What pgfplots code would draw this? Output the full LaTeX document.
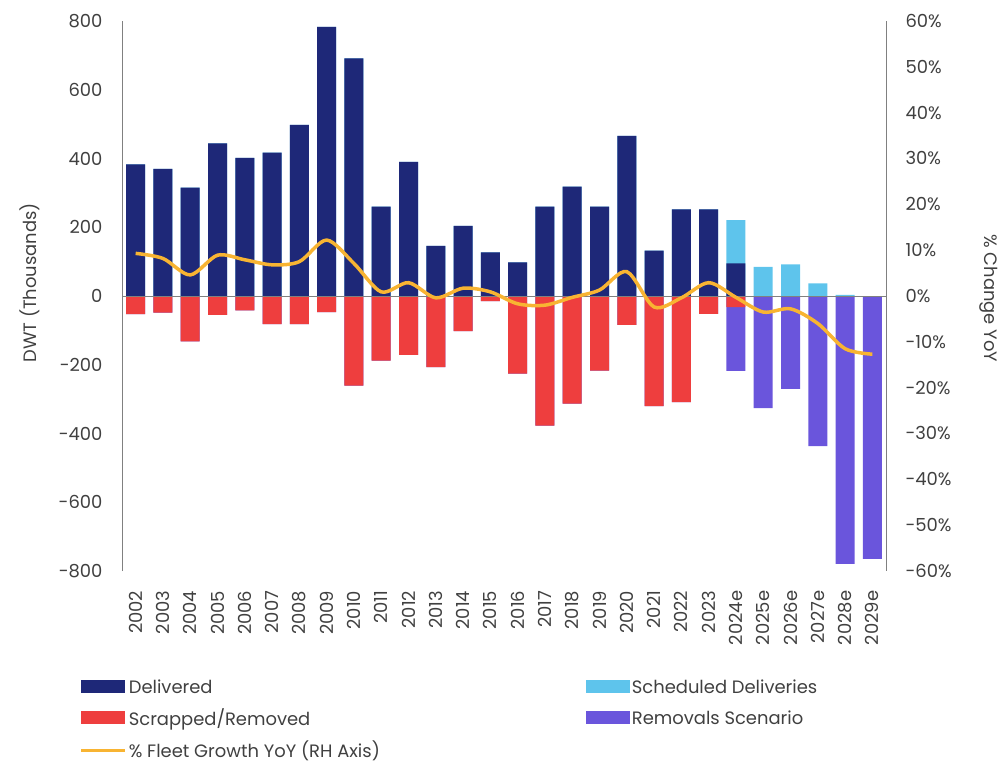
\documentclass[border=0pt]{standalone}
\usepackage{pgfplots}
\usepackage{pgfplotstable}
\pgfplotsset{compat=1.18}
\usepackage{fontspec}
\setmainfont{Poppins}
\definecolor{cDel}{HTML}{1E2878}
\definecolor{cSch}{HTML}{5EC4EC}
\definecolor{cScr}{HTML}{EE3E3E}
\definecolor{cRem}{HTML}{6A55DC}
\definecolor{cLine}{HTML}{F8B432}
\definecolor{cTxt}{HTML}{404040}
\definecolor{cAx}{HTML}{808080}
\pgfplotstableread{
x del sch scr rem g
0 383 0 -53 0 9.3
1 370 0 -48 0 8.2
2 315 0 -132 0 4.6
3 444 0 -55 0 8.9
4 402 0 -42 0 7.9
5 417 0 -82 0 6.8
6 498 0 -82 0 7.5
7 783 0 -47 0 12.2
8 691 0 -261 0 7.1
9 260 0 -188 0 0.9
10 390 0 -171 0 2.9
11 146 0 -207 0 -0.4
12 204 0 -102 0 1.7
13 127 0 -15 0 0.9
14 98 0 -226 0 -1.7
15 260 0 -377 0 -2.0
16 318 0 -313 0 -0.3
17 260 0 -217 0 1.3
18 466 0 -84 0 5.3
19 132 0 -320 0 -2.4
20 252 0 -309 0 -0.4
21 252 0 -52 0 2.9
22 95 126 -32 -186 -0.3
23 0 85 0 -326 -3.5
24 0 92 0 -270 -2.8
25 0 37 0 -437 -6.0
26 0 3 0 -779 -11.5
27 0 0 0 -765 -12.7
}\data
\begin{document}
\begin{tikzpicture}
\useasboundingbox (0,0) rectangle (1003bp,772bp);
\pgfplotsset{
  every axis/.append style={
    at={(122bp,201bp)}, anchor=south west,
    width=764bp, height=550bp, scale only axis,
    xmin=-0.5, xmax=27.5,
    tick style={draw=none},
    tick label style={font=\fontsize{18}{21}\selectfont, text=cTxt},
    label style={font=\fontsize{18}{21}\selectfont, text=cTxt},
    axis line style={cAx, line width=1pt},
  }
}
\begin{axis}[
  ymin=-800, ymax=800,
  axis y line*=left,
  axis x line*=bottom,
  x axis line style={draw=none},
  ytick={-800,-600,-400,-200,0,200,400,600,800},
  yticklabels={-800,-600,-400,-200,0,200,400,600,800},
  yticklabel shift=16bp,
  xtick={0,...,27},
  xticklabels={2002,2003,2004,2005,2006,2007,2008,2009,2010,2011,2012,2013,2014,2015,2016,2017,2018,2019,2020,2021,2022,2023,2024e,2025e,2026e,2027e,2028e,2029e},
  xticklabel style={rotate=90, anchor=east},
  xticklabel shift=12bp,
  ylabel={DWT (Thousands)},
  ylabel style={at={(axis description cs:-0.121,0.524)}, anchor=center},
  ybar, bar width=19bp, bar shift=0pt,
  legend columns=2,
  legend cell align=left,
  legend style={at={(axis description cs:-0.06,-0.19)}, anchor=north west, draw=none, fill=none,
    font=\fontsize{18}{21}\selectfont, text=cTxt,
    /tikz/every even column/.append style={column sep=204bp},
    row sep=10bp},
  legend image code/.code={\fill[#1, draw=none] (0bp,-6bp) rectangle (44bp,7bp);},
]
\addplot[fill=cSch, draw=none, forget plot] table[x=x, y expr=\thisrow{del}+\thisrow{sch}] {\data};
\addplot[fill=cDel, draw=none, forget plot] table[x=x, y=del] {\data};
\addplot[fill=cRem, draw=none, forget plot] table[x=x, y expr=\thisrow{scr}+\thisrow{rem}] {\data};
\addplot[fill=cScr, draw=none, forget plot] table[x=x, y=scr] {\data};
\draw[cAx, line width=1pt] (axis cs:-0.5,0) -- (axis cs:27.5,0);
\addlegendimage{fill=cDel, draw=none}
\addlegendentry{Delivered}
\addlegendimage{fill=cSch, draw=none}
\addlegendentry{Scheduled Deliveries}
\addlegendimage{fill=cScr, draw=none}
\addlegendentry{Scrapped/Removed}
\addlegendimage{fill=cRem, draw=none}
\addlegendentry{Removals Scenario}
\addlegendimage{legend image code/.code={\draw[cLine, line width=3.5bp] (0bp,0bp) -- (44bp,0bp);}}
\addlegendentry{\% Fleet Growth YoY (RH Axis)}
\end{axis}
\begin{axis}[
  ymin=-60, ymax=60,
  axis y line*=right,
  axis x line=none,
  ytick={-60,-50,-40,-30,-20,-10,0,10,20,30,40,50,60},
  yticklabels={-60\%,-50\%,-40\%,-30\%,-20\%,-10\%,0\%,10\%,20\%,30\%,40\%,50\%,60\%},
  yticklabel style={anchor=west},
  yticklabel shift=16bp,
  ylabel={\% Change YoY},
  ylabel style={at={(axis description cs:1.134,0.496)}, anchor=center, rotate=180},
]
\addplot[cLine, line width=3.5bp, smooth, tension=0.5, no markers] table[x=x, y=g] {\data};
\end{axis}
\end{tikzpicture}
\end{document}
